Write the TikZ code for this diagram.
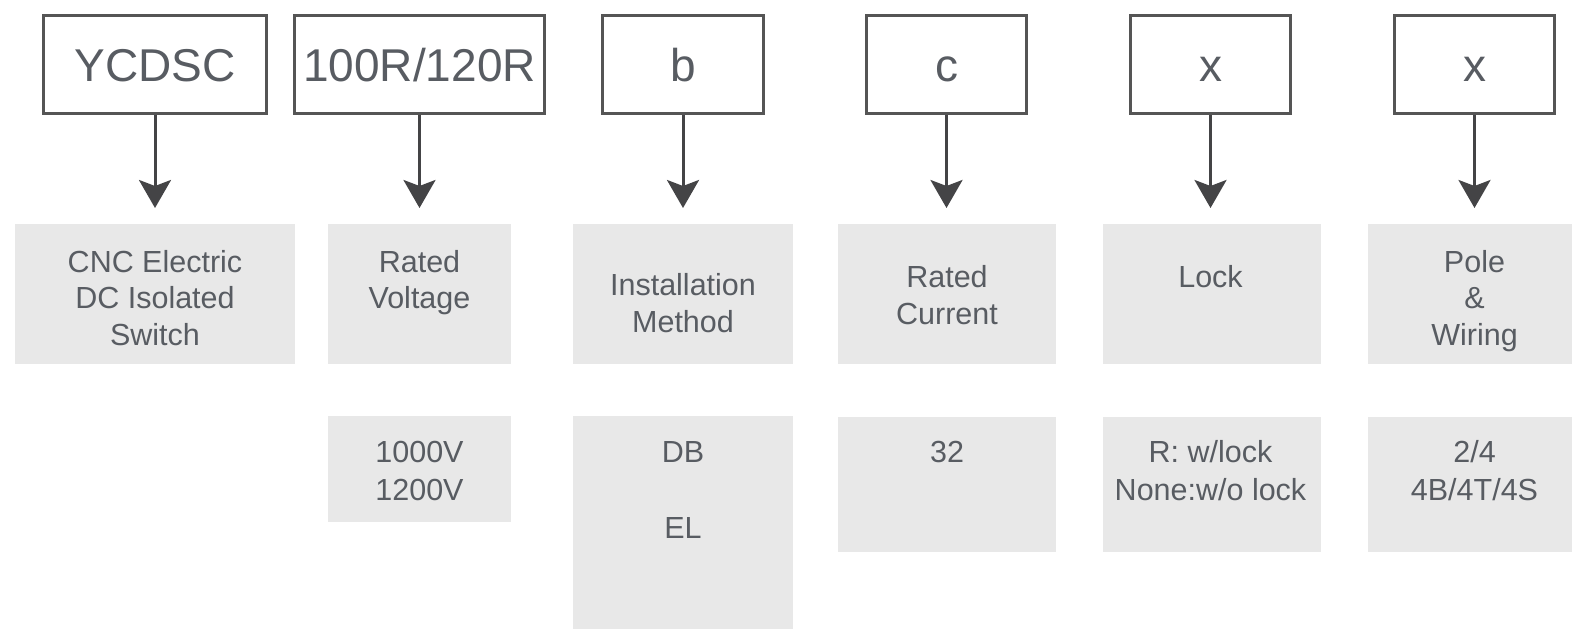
\documentclass[tikz,border=0pt]{standalone}
\usepackage{fontspec}
\setmainfont{Liberation Sans}
\usetikzlibrary{arrows.meta}
\definecolor{txtc}{RGB}{88,92,98}
\definecolor{boxc}{RGB}{85,85,85}
\definecolor{arrc}{RGB}{68,68,70}
\definecolor{fillc}{RGB}{232,232,232}
\begin{document}
\begin{tikzpicture}[x=1pt,y=-1pt,
  topbox/.style={draw=boxc, line width=3pt, fill=white, inner sep=0pt,
    minimum height=98.5pt, font=\fontsize{46}{50}\selectfont, text=txtc,
    text height=33pt, text depth=0pt},
  graybox/.style={fill=fillc, draw=none, inner sep=0pt},
  lbl/.style={font=\fontsize{30.5}{37}\selectfont, text=txtc, anchor=base, inner sep=0pt},
  arr/.style={draw=arrc, line width=3pt, -{Stealth[length=28pt,width=32pt,inset=6pt]}}]
\clip (0,0) rectangle (1572,629);
\fill[white] (0,0) rectangle (1572,629);
% top code boxes
\node[topbox, minimum width=223pt] (t1) at (155,64.5) {YCDSC};
\node[topbox, minimum width=250pt] (t2) at (419.5,64.5) {100R/120R};
\node[topbox, minimum width=161pt] (t3) at (683,64.5) {b};
\node[topbox, minimum width=160pt] (t4) at (946.5,64.5) {c};
\node[topbox, minimum width=160pt] (t5) at (1210.5,64.5) {x};
\node[topbox, minimum width=160pt] (t6) at (1474.5,64.5) {x};
% arrow tips
\coordinate (a1) at (155,208);
\coordinate (a2) at (419.5,208);
\coordinate (a3) at (683,208);
\coordinate (a4) at (946.5,208);
\coordinate (a5) at (1210.5,208);
\coordinate (a6) at (1474.5,208);
\draw[arr] (t1.south) -- (a1);
\draw[arr] (t2.south) -- (a2);
\draw[arr] (t3.south) -- (a3);
\draw[arr] (t4.south) -- (a4);
\draw[arr] (t5.south) -- (a5);
\draw[arr] (t6.south) -- (a6);
% first row of grey boxes
\node[graybox, minimum width=280pt, minimum height=140pt] (g1) at (155,294) {};
\node[graybox, minimum width=183pt, minimum height=140pt] (g2) at (419.5,294) {};
\node[graybox, minimum width=220pt, minimum height=140pt] (g3) at (683,294) {};
\node[graybox, minimum width=218pt, minimum height=140pt] (g4) at (947,294) {};
\node[graybox, minimum width=218pt, minimum height=140pt] (g5) at (1212,294) {};
\node[graybox, minimum width=218pt, minimum height=140pt] (g6) at (1477,294) {};
% second row of grey boxes
\node[graybox, minimum width=183pt, minimum height=106pt] (v2) at (419.5,469) {};
\node[graybox, minimum width=220pt, minimum height=214pt] (v3) at (683,523) {};
\node[graybox, minimum width=218pt, minimum height=135pt] (v4) at (947,484) {};
\node[graybox, minimum width=218pt, minimum height=135pt] (v5) at (1212,484) {};
\node[graybox, minimum width=218pt, minimum height=135pt] (v6) at (1477,484) {};
% texts, first row
\node[lbl] (g1a) at (155,272) {CNC Electric};
\node[lbl] (g1b) at (155,308.5) {DC Isolated};
\node[lbl] (g1c) at (155,345) {Switch};
\node[lbl] (g2a) at (419.5,272) {Rated};
\node[lbl] (g2b) at (419.5,308.5) {Voltage};
\node[lbl] (g3a) at (683,295) {Installation};
\node[lbl] (g3b) at (683,332) {Method};
\node[lbl] (g4a) at (947,287) {Rated};
\node[lbl] (g4b) at (947,324) {Current};
\node[lbl] (g5a) at (1210.5,287) {Lock};
\node[lbl] (g6a) at (1474.5,272) {Pole};
\node[lbl] (g6b) at (1474.5,308.5) {\&};
\node[lbl] (g6c) at (1474.5,345) {Wiring};
% texts, second row
\node[lbl] (v2a) at (419.5,462) {1000V};
\node[lbl] (v2b) at (419.5,500) {1200V};
\node[lbl] (v3a) at (683,462) {DB};
\node[lbl] (v3b) at (683,538) {EL};
\node[lbl] (v4a) at (947,462) {32};
\node[lbl] (v5a) at (1210.5,462) {R: w/lock};
\node[lbl] (v5b) at (1210.5,500) {None:w/o lock};
\node[lbl] (v6a) at (1474.5,462) {2/4};
\node[lbl] (v6b) at (1474.5,500) {4B/4T/4S};
\end{tikzpicture}
\end{document}
